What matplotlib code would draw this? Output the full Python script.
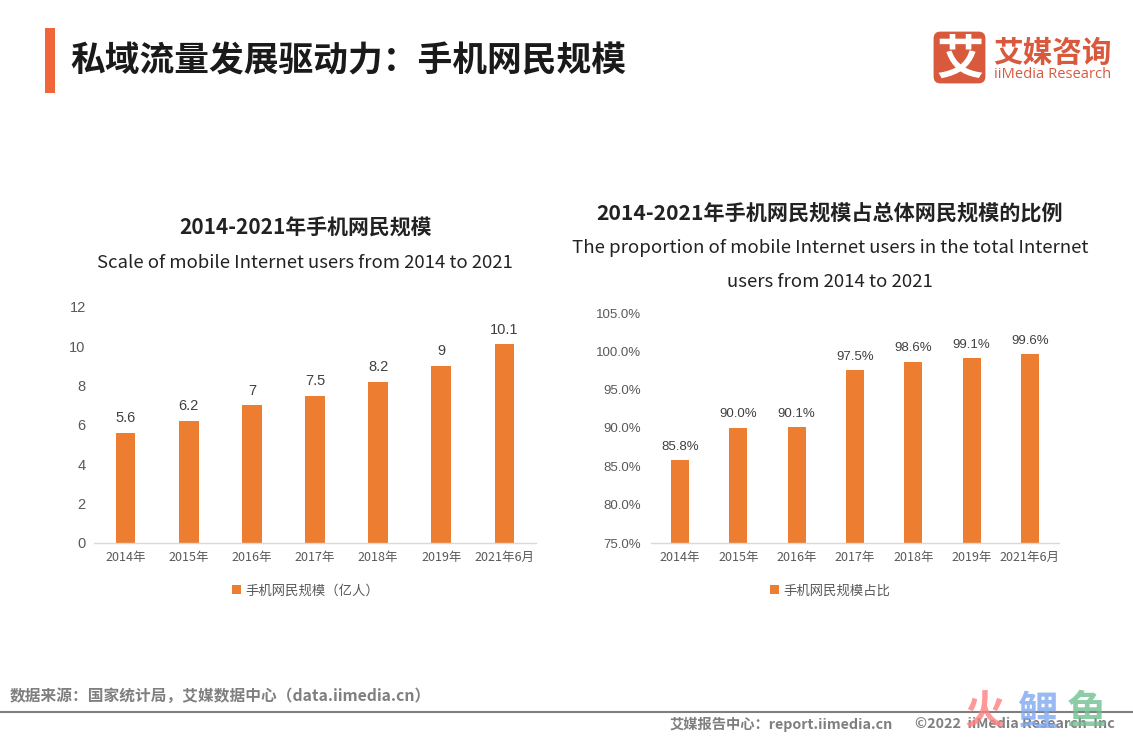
import matplotlib
matplotlib.use('Agg')
import matplotlib.pyplot as plt
from matplotlib.patches import Rectangle, FancyBboxPatch
from matplotlib.lines import Line2D

plt.rcParams['font.family'] = ['Noto Sans CJK SC', 'DejaVu Sans']

W, H = 1133, 737

categories = ['2014年', '2015年', '2016年', '2017年', '2018年', '2019年', '2021年6月']
users = [5.6, 6.2, 7, 7.5, 8.2, 9, 10.1]
user_labels = ['5.6', '6.2', '7', '7.5', '8.2', '9', '10.1']
share = [85.8, 90.0, 90.1, 97.5, 98.6, 99.1, 99.6]
share_labels = ['85.8%', '90.0%', '90.1%', '97.5%', '98.6%', '99.1%', '99.6%']
left_ticks = [0, 2, 4, 6, 8, 10, 12]
right_ticks = [75, 80, 85, 90, 95, 100, 105]

ORANGE = '#ED7D31'
GREY = '#595959'
ACCENT = '#F0663A'
LOGO = '#D9593D'

fig = plt.figure(figsize=(W / 100, H / 100), dpi=100, facecolor='white')


def T(x, y, s, **kw):
    kw.setdefault('va', 'center')
    return fig.text(x / W, 1 - y / H, s, **kw)


def make_axes(x0, x1, ytop, ybot):
    return fig.add_axes([x0 / W, 1 - ybot / H, (x1 - x0) / W, (ybot - ytop) / H])


def bars(ax, vals, labels, ymin, ymax, ticks, ticklabels, width, pad, fs):
    xs = range(len(vals))
    ax.bar(xs, vals, width=width, color=ORANGE, bottom=0)
    ax.set_xlim(-0.5, len(vals) - 0.5)
    ax.set_ylim(ymin, ymax)
    ax.set_yticks(ticks)
    ax.set_yticklabels(ticklabels, fontsize=fs, color=GREY, family='Liberation Sans')
    ax.set_xticks(list(xs))
    ax.set_xticklabels(categories, fontsize=9, color=GREY)
    ax.tick_params(axis='both', length=0)
    ax.tick_params(axis='x', pad=6)
    ax.tick_params(axis='y', pad=pad)
    for s in ['top', 'right', 'left']:
        ax.spines[s].set_visible(False)
    ax.spines['bottom'].set_color('#D9D9D9')
    ax.spines['bottom'].set_linewidth(1)
    for x, v, l in zip(xs, vals, labels):
        ax.annotate(l, (x, v), xytext=(0, 5.5), textcoords='offset points', ha='center',
                    va='bottom', fontsize=fs, color='#404040', family='Liberation Sans')


ax1 = make_axes(94, 536, 307, 543)
bars(ax1, users, user_labels, 0, 12, left_ticks, [str(t) for t in left_ticks], 0.31, 6, 10.5)

ax2 = make_axes(651, 1059, 313, 543)
bars(ax2, share, share_labels, 75, 105, right_ticks, [f'{t:.1f}%' for t in right_ticks], 0.31, 7, 9.5)

# header
fig.add_artist(Rectangle((45 / W, 1 - 93 / H), 10 / W, 65 / H, transform=fig.transFigure,
                         color=ACCENT, lw=0))
T(70, 61, '私域流量发展驱动力：手机网民规模', fontsize=25, fontweight='bold', color='#1A1A1A')

# logo
fig.add_artist(FancyBboxPatch((937 / W, 1 - 80 / H), 45 / W, 45 / H, transform=fig.transFigure,
                              boxstyle='round,pad=0.003,rounding_size=0.006', color=LOGO, lw=0,
                              mutation_aspect=W / H))
T(960, 60, '艾', fontsize=34, fontweight='bold', color='white', ha='center')
T(993, 53, '艾媒咨询', fontsize=21.3, fontweight='bold', color=LOGO)
T(994, 75, 'iiMedia Research', fontsize=10.6, color=LOGO, family='Open Sans')

# chart titles
T(305.5, 228, '2014-2021年手机网民规模', fontsize=15, fontweight='bold', color='#222222', ha='center')
T(305, 263, 'Scale of mobile Internet users from 2014 to 2021', fontsize=13.35, color='#222222', ha='center')
T(830, 213, '2014-2021年手机网民规模占总体网民规模的比例', fontsize=15.2, fontweight='bold', color='#222222', ha='center')
T(830, 248, 'The proportion of mobile Internet users in the total Internet', fontsize=13.4, color='#222222', ha='center')
T(830, 282, 'users from 2014 to 2021', fontsize=13.4, color='#222222', ha='center')

# legends
fig.add_artist(Rectangle((232 / W, 1 - 594 / H), 9 / W, 9 / H, transform=fig.transFigure, color=ORANGE, lw=0))
T(245.5, 590.5, '手机网民规模（亿人）', fontsize=9.6, color=GREY)
fig.add_artist(Rectangle((770 / W, 1 - 594 / H), 9 / W, 9 / H, transform=fig.transFigure, color=ORANGE, lw=0))
T(783.5, 590.5, '手机网民规模占比', fontsize=9.6, color=GREY)

# footer
T(10, 695.5, '数据来源：国家统计局，艾媒数据中心（data.iimedia.cn）', fontsize=11.3, fontweight='bold', color='#7F7F7F')
fig.add_artist(Line2D([0, 1], [1 - 712 / H] * 2, transform=fig.transFigure, color='#7F7F7F', lw=1.5))
T(670, 724, '艾媒报告中心：report.iimedia.cn', fontsize=10.3, fontweight='bold', color='#7F7F7F')
T(915, 724, '©2022  iiMedia Research  Inc', fontsize=10.3, fontweight='bold', color='#7F7F7F')

# watermark
for x, ch, c in [(985, '火', '#FF7F7F'), (1037, '鲤', '#7FA8F0'), (1087, '鱼', '#70C090')]:
    T(x, 713, ch, fontsize=29, fontweight='bold', color=c, alpha=0.8, ha='center')

fig.savefig('out.png', dpi=100, facecolor='white')
